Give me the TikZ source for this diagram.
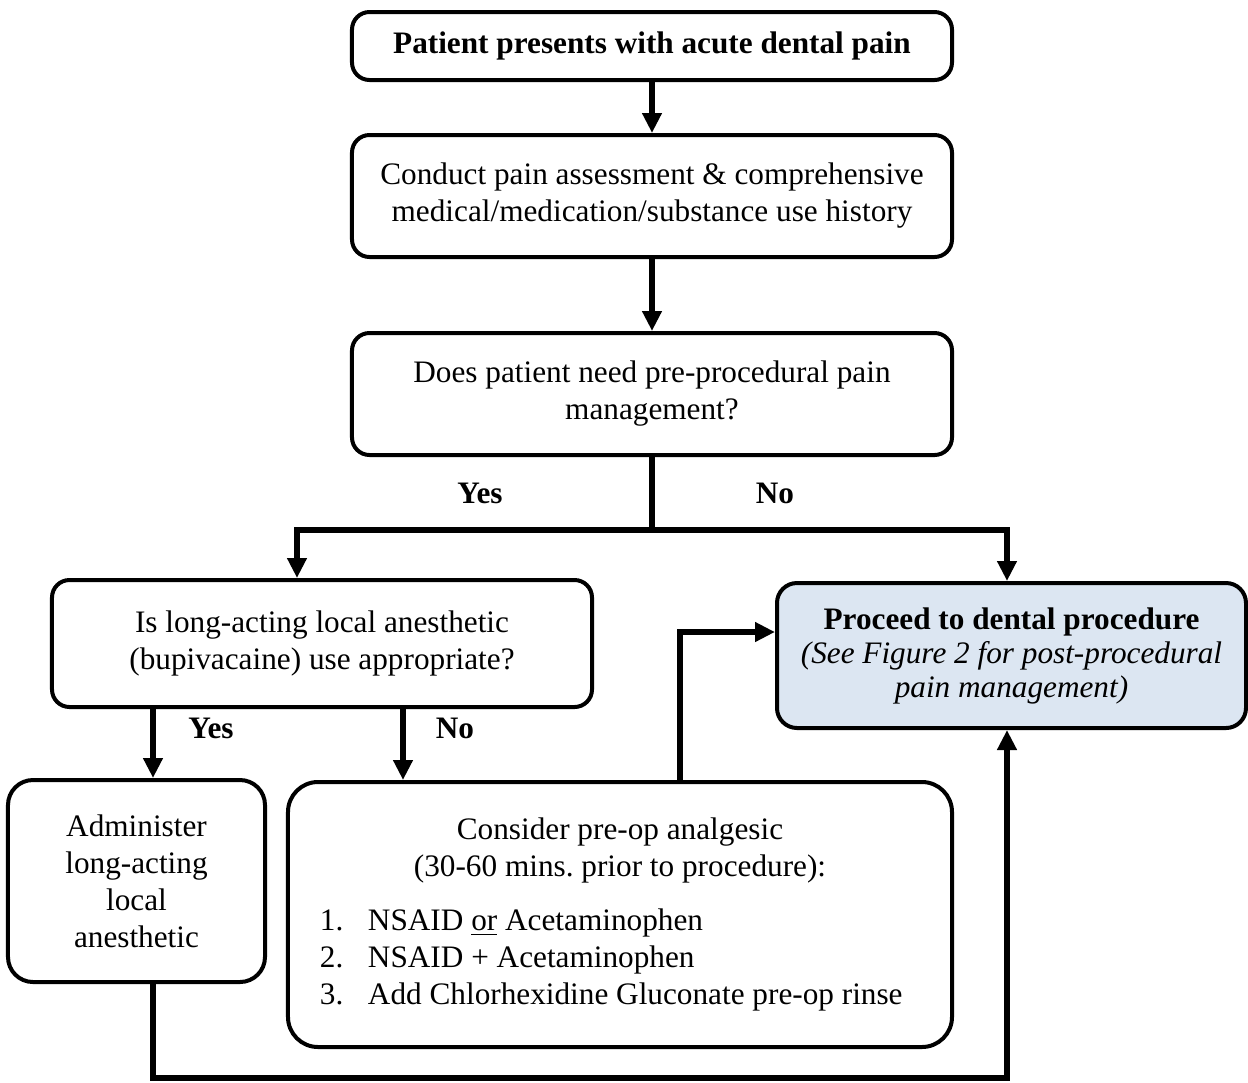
\documentclass[tikz,border=0pt]{standalone}
\usepackage{fontspec}
\setmainfont{Liberation Serif}
\usepackage{xcolor}
\usetikzlibrary{arrows.meta}
\definecolor{boxblue}{RGB}{220,230,242}

\begin{document}
\begin{tikzpicture}[x=0.4pt, y=-0.4pt,
    every node/.style={font=\fontsize{12.5}{14.8}\selectfont},
    box/.style={draw, line width=1.6pt, rounded corners=7pt, align=center, inner sep=0pt},
    arr/.style={line width=2.2pt, -{Triangle[width=7.5pt,length=8pt]}},
    link/.style={line width=2.2pt},
    lbl/.style={font=\fontsize{12.5}{14.8}\selectfont\bfseries}]
     \useasboundingbox (0,0) rectangle (1248,1082);

     \node[box, minimum width=240pt, minimum height=27.2pt] (b1) at (652,46) {\textbf{Patient presents with acute dental pain}};
     \node[box, minimum width=240pt, minimum height=48.8pt] (b2) at (652,196) {Conduct pain assessment \& comprehensive\\medical/medication/substance use history};
     \node[box, minimum width=240pt, minimum height=48.8pt] (b3) at (652,394) {Does patient need pre-procedural pain\\management?};
     \node[box, minimum width=216pt, minimum height=50.8pt] (b4) at (322,643.5) {Is long-acting local anesthetic\\(bupivacaine) use appropriate?};
     \node[box, fill=boxblue, rounded corners=8pt, minimum width=187.6pt, minimum height=58pt] (b5) at (1011.5,655.5) {\textbf{Proceed to dental procedure}\\[-1.2pt]\textit{(See Figure 2 for post-procedural}\\[-1.2pt]\textit{pain management)}};
     \node[box, rounded corners=10pt, minimum width=102.8pt, minimum height=80.8pt] (b6) at (136.5,881) {Administer\\long-acting\\local\\anesthetic};
     \node[box, rounded corners=12pt, minimum width=265.6pt, minimum height=106pt, align=left, text width=240pt] (b7) at (620,914.5) {\spaceskip=0pt\xspaceskip=0pt\frenchspacing
       {\centering Consider pre-op analgesic\par (30-60 mins. prior to procedure):\par}\vspace{6.8pt}
       \makebox[19.2pt][l]{1.}NSAID \underline{or} Acetaminophen\par
       \makebox[19.2pt][l]{2.}NSAID + Acetaminophen\par
       \makebox[19.2pt][l]{3.}Add Chlorhexidine Gluconate pre-op rinse};

     \node[lbl] (yes1) at (480,493) {Yes};
     \node[lbl] (no1) at (775,493) {No};
     \node[lbl] (yes2) at (211,728) {Yes};
     \node[lbl] (no2) at (455,728) {No};

     \coordinate (split) at (652,530);
     \coordinate (yesturn) at (297,530);
     \coordinate (noturn) at (1007,530);
     \coordinate (yesdrop) at (153,0);
     \coordinate (nodrop) at (403,0);
     \coordinate (upturn) at (680,632);
     \coordinate (bl) at (153,1078);
     \coordinate (br) at (1007,1078);

     \draw[arr] (b1) -- (b2);
     \draw[arr] (b2) -- (b3);
     \draw[link] (b3.south) -- (split);
     \draw[arr] (split) -- (yesturn) -- (yesturn |- b4.north);
     \draw[arr] (split) -- (noturn) -- (noturn |- b5.north);
     \draw[arr] (b4.south -| yesdrop) -- (b6.north -| yesdrop);
     \draw[arr] (b4.south -| nodrop) -- (b7.north -| nodrop);
     \draw[arr] (b7.north -| upturn) -- (upturn) -- (b5.west |- upturn);
     \draw[arr] (b6.south -| bl) -- (bl) -- (br) -- (b5.south -| br);
 \end{tikzpicture}
\end{document}
